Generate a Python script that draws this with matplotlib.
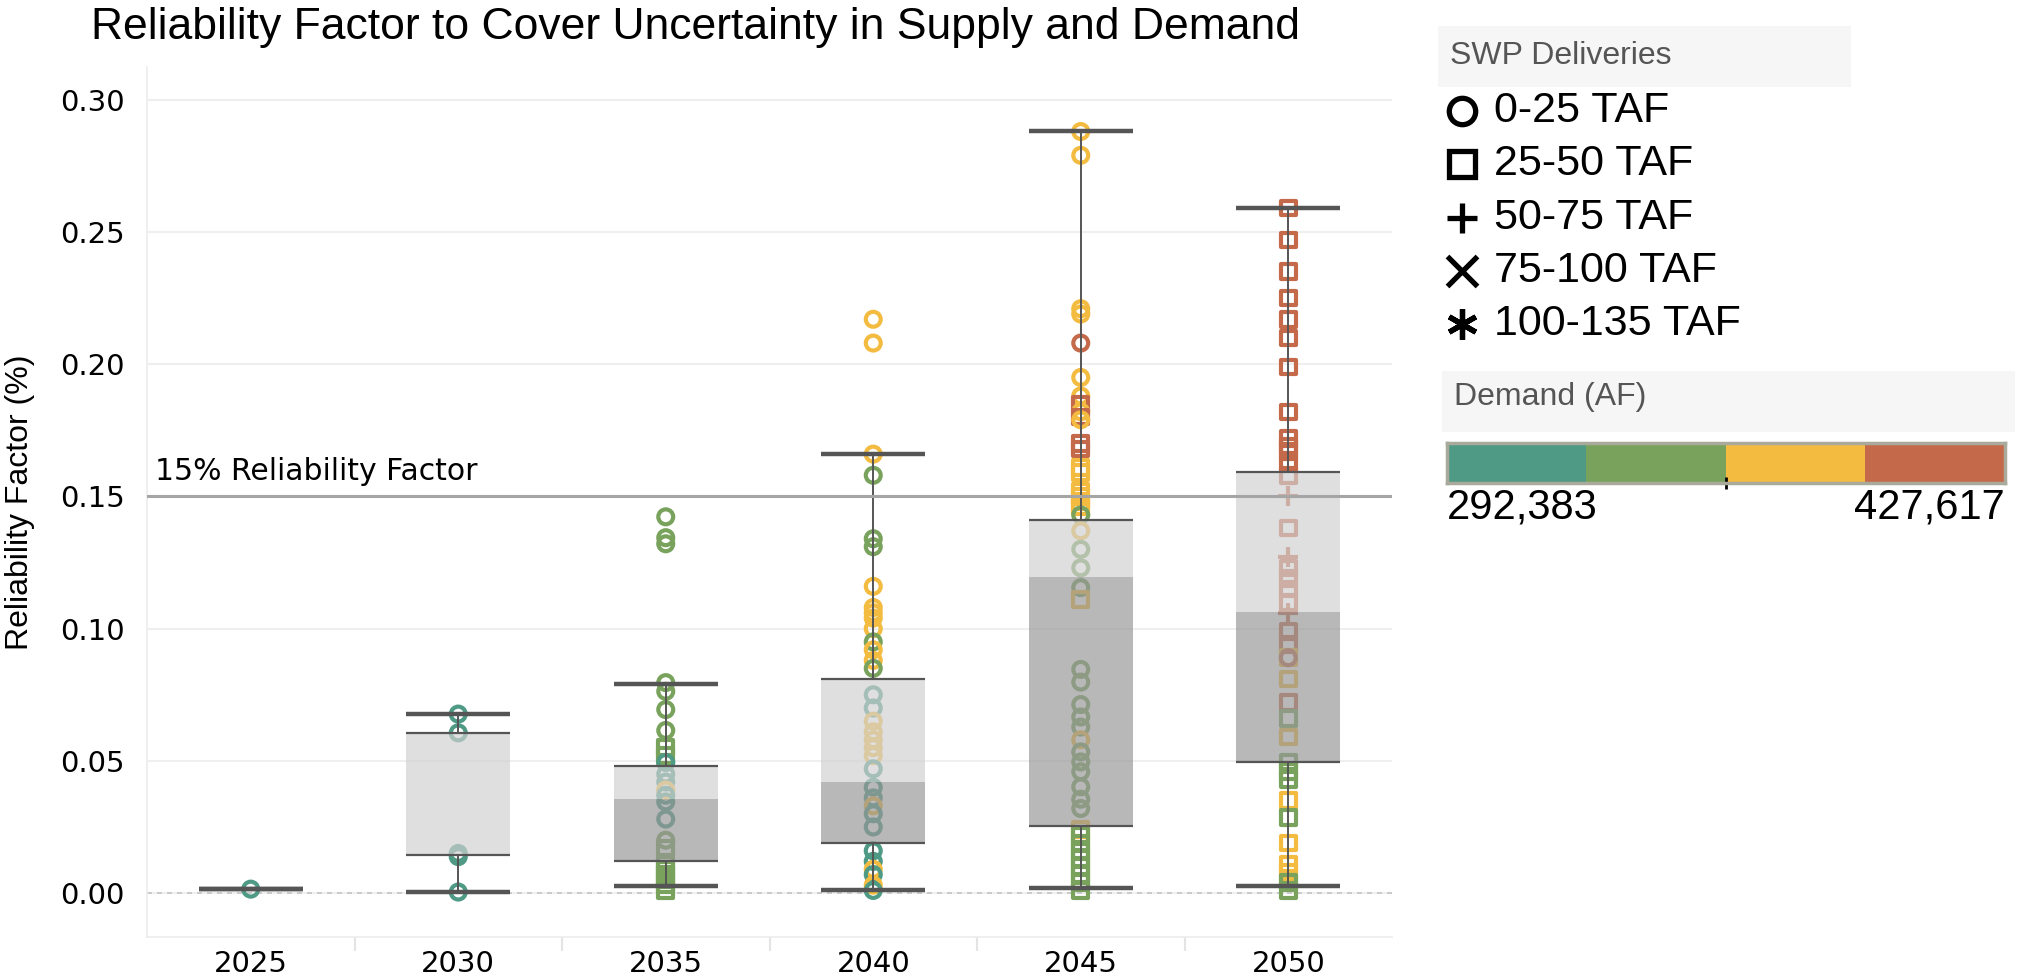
import numpy as np
import matplotlib.pyplot as plt
from matplotlib.colors import ListedColormap
from matplotlib.patches import Rectangle

# ---- data ----
years = ['2025', '2030', '2035', '2040', '2045', '2050']

# box plot stats per year
whislo = [0.0015, 0.0004, 0.0027, 0.0010, 0.0020, 0.0026]
q1 = [0.0015, 0.0145, 0.0121, 0.0190, 0.0254, 0.0496]
med = [0.0015, 0.0147, 0.0356, 0.0420, 0.1194, 0.1063]
q3 = [0.0015, 0.0606, 0.0481, 0.0810, 0.1410, 0.1593]
whishi = [0.0015, 0.0677, 0.0790, 0.1662, 0.2882, 0.2589]

# points: value, demand bin (T/G/Y/R), SWP delivery bin (o/s/+)
rf_2025 = [0.0015]
dem_2025 = 'T'
swp_2025 = 'o'

rf_2030 = [0.0677, 0.0606, 0.0150, 0.0138, 0.0004]
dem_2030 = 'TTTTT'
swp_2030 = 'ooooo'

rf_2035 = [0.1423, 0.1344, 0.1321, 0.0796, 0.0763, 0.0694, 0.0615, 0.0550, 0.0520,
           0.0494, 0.0450, 0.0420, 0.0390, 0.0370, 0.0345, 0.0280, 0.0200, 0.0170,
           0.0110, 0.0090, 0.0070, 0.0050, 0.0030, 0.0010]
dem_2035 = 'GGGGGGGGGTTTYTTTGGGGGGGG'
swp_2035 = 'ooooooossoooooooossssssss'[:24]

rf_2040 = [0.217, 0.208, 0.166, 0.158, 0.134, 0.131, 0.116, 0.108, 0.106, 0.104,
           0.100, 0.095, 0.092, 0.088, 0.085, 0.075, 0.070, 0.065, 0.061, 0.058,
           0.055, 0.052, 0.047, 0.040, 0.036, 0.033, 0.030, 0.025, 0.016, 0.012,
           0.009, 0.007, 0.003, 0.001]
dem_2040 = 'YYYGGGY' + 'YYYY' + 'GYYG' + 'TTYYYYYT' + 'TTYTT' + 'TTYTYT'
swp_2040 = 'o' * 34

rf_2045 = [0.288, 0.279, 0.221, 0.219, 0.208, 0.195, 0.188, 0.185, 0.182, 0.180,
           0.179, 0.170, 0.168, 0.161, 0.159, 0.152, 0.150, 0.148, 0.146, 0.143,
           0.137, 0.130, 0.123, 0.1155, 0.111, 0.0846, 0.0798, 0.0713, 0.0666, 0.0628,
           0.058, 0.0534, 0.0496, 0.0459, 0.0402, 0.0355, 0.032, 0.024, 0.022, 0.019,
           0.016, 0.013, 0.010, 0.007, 0.004, 0.001]
dem_2045 = 'YYYYR' + 'YYRYR' + 'YRRYY' + 'YYYYG' + 'YGGGY' + 'GGGGG' + 'YGGGG' + 'GGYGG' + 'GGGGG' + 'G'
swp_2045 = 'ooooo' + 'oosos' + 'ossss' + 'sssso' + 'oooos' + 'ooooo' + 'ooooo' + 'oosss' + 'sssss' + 's'

rf_2050 = [0.259, 0.247, 0.235, 0.225, 0.217, 0.210, 0.199, 0.182, 0.172, 0.169,
           0.167, 0.163, 0.158, 0.150, 0.138, 0.127, 0.123, 0.119, 0.115, 0.110,
           0.106, 0.099, 0.094, 0.089, 0.089, 0.081, 0.072, 0.066, 0.059, 0.0496,
           0.046, 0.043, 0.035, 0.0285, 0.019, 0.011, 0.008, 0.004, 0.001]
dem_2050 = 'RRRRR' + 'RRRRR' + 'RRRRR' + 'RRRRR' + 'RRRYR' + 'YRGYG' + 'GGYGY' + 'YYGG'
swp_2050 = 'sssss' + 'sssss' + 'sss+s' + '+ssss' + '+ssso' + 'sssss' + 'sssss' + 'ssss'

points = [(rf_2025, dem_2025, swp_2025), (rf_2030, dem_2030, swp_2030),
          (rf_2035, dem_2035, swp_2035), (rf_2040, dem_2040, swp_2040),
          (rf_2045, dem_2045, swp_2045), (rf_2050, dem_2050, swp_2050)]

demand_colors = {'T': '#4E9A85', 'G': '#79A35D', 'Y': '#F3BC41', 'R': '#C4694A'}
demand_min, demand_max = 292383, 427617
swp_labels = ['0-25 TAF', '25-50 TAF', '50-75 TAF', '75-100 TAF', '100-135 TAF']
swp_markers = ['o', 's', '+', 'x', (6, 2, 0)]
ref_level = 0.15

# ---- figure ----
W, H = 2029, 974
fig = plt.figure(figsize=(W / 100, H / 100), dpi=100)
ax = fig.add_axes([147 / W, 1 - 937 / H, (1392 - 147) / W, (937 - 67) / H])
ax.set_xlim(-0.5, 5.5)
ax.set_ylim(-0.0166, 0.3124)

yt = np.arange(0, 0.31, 0.05)
for v in yt:
    ax.axhline(v, color='#efefef', lw=1.5, zorder=0)
ax.axhline(0, color='#c4c4c4', lw=1.2, ls=(0, (3, 3)), zorder=1)

# points
for i, (vals, dems, shapes) in enumerate(points):
    for v, d, s in zip(vals, dems, shapes):
        if s == '+':
            ax.scatter(i, v, marker='+', s=190, color=demand_colors[d], linewidths=3, zorder=2)
        else:
            ax.scatter(i, v, marker=s, s=115 if s == 'o' else 110, facecolors='none',
                       edgecolors=demand_colors[d], linewidths=3, zorder=2)

# boxes (semi-transparent so points underneath look faded)
x = np.arange(len(years))
q1a, meda, q3a = np.array(q1), np.array(med), np.array(q3)
ax.bar(x, meda - q1a, bottom=q1a, width=0.5, color='#979797', alpha=0.68, zorder=3)
ax.bar(x, q3a - meda, bottom=meda, width=0.5, color='#d0d0d0', alpha=0.68, zorder=3)
ax.hlines(q1, x - 0.25, x + 0.25, color='#555555', lw=1.6, zorder=4)
ax.hlines(q3, x - 0.25, x + 0.25, color='#555555', lw=1.6, zorder=4)
ax.vlines(x, whislo, q1, color='#555555', lw=1.4, zorder=4)
ax.vlines(x, q3, whishi, color='#555555', lw=1.4, zorder=4)
ax.hlines(whislo, x - 0.25, x + 0.25, color='#555555', lw=3.2, zorder=4)
ax.hlines(whishi, x - 0.25, x + 0.25, color='#555555', lw=3.2, zorder=4)

ax.axhline(ref_level, color='#a5a5a5', lw=2.2, zorder=5)
ax.text(-0.46, ref_level + 0.004, '15% Reliability Factor', fontsize=21.5,
        family='DejaVu Sans', va='bottom', ha='left', zorder=6)

ax.set_xticks(x)
ax.set_xticklabels(years, fontsize=21, family='DejaVu Sans')
ax.set_xticks(x[:-1] + 0.5, minor=True)
ax.set_yticks(yt)
ax.set_yticklabels([f'{v:.2f}' for v in yt], fontsize=21, family='DejaVu Sans')
ax.tick_params(axis='both', which='major', length=0)
ax.tick_params(axis='x', which='major', pad=9)
ax.tick_params(axis='y', which='major', pad=16)
ax.tick_params(axis='x', which='minor', length=10, width=1.5, color='#e4e4e4')
for sp in ['top', 'right']:
    ax.spines[sp].set_visible(False)
for sp in ['left', 'bottom']:
    ax.spines[sp].set_color('#ececec')
    ax.spines[sp].set_linewidth(1.2)
ax.set_ylabel('Reliability Factor (%)', fontsize=23, family='Liberation Sans')
ax.yaxis.set_label_coords(-112 / (1392 - 147), 0.5)

fig.text(91 / W, 1 - 28 / H, 'Reliability Factor to Cover Uncertainty in Supply and Demand',
         fontsize=32, family='Liberation Sans', ha='left', va='center')

# ---- legend (pixel coordinate overlay) ----
ov = fig.add_axes([0, 0, 1, 1])
ov.set_xlim(0, W)
ov.set_ylim(H, 0)
ov.axis('off')
ov.patch.set_alpha(0)

ov.add_patch(Rectangle((1438, 26), 413, 61, color='#f6f6f6', lw=0))
ov.text(1450, 56, 'SWP Deliveries', fontsize=23, color='#555555',
        family='Liberation Sans', va='center', ha='left')
for k, (lab, mk) in enumerate(zip(swp_labels, swp_markers)):
    yy = 111 + k * 53.3
    ms = 19 if mk in ('o', 's') else 22
    ov.plot(1462, yy, marker=mk, ms=ms, mfc='none', mec='black', color='black', mew=3.8)
    ov.text(1494, yy, lab, fontsize=31, family='Liberation Sans', va='center', ha='left')

ov.add_patch(Rectangle((1442, 371), 573, 61, color='#f6f6f6', lw=0))
ov.text(1454, 397, 'Demand (AF)', fontsize=23, color='#555555',
        family='Liberation Sans', va='center', ha='left')

cb = fig.add_axes([1447 / W, 1 - 483 / H, (2005 - 1447) / W, 40 / H])
cb.imshow([[0, 1, 2, 3]], cmap=ListedColormap(list(demand_colors.values())),
          extent=[demand_min, demand_max, 0, 1], aspect='auto')
cb.set_xlim(demand_min, demand_max)
cb.set_yticks([])
cb.set_xticks([(demand_min + demand_max) / 2])
cb.set_xticklabels([''])
cb.tick_params(axis='x', length=9, width=2, direction='inout', color='black')
for sp in cb.spines.values():
    sp.set_color('#a9a99c')
    sp.set_linewidth(2.5)
cb.text(0, -0.12, f'{demand_min:,}', transform=cb.transAxes, fontsize=30,
        family='Liberation Sans', ha='left', va='top')
cb.text(1, -0.12, f'{demand_max:,}', transform=cb.transAxes, fontsize=30,
        family='Liberation Sans', ha='right', va='top')

fig.savefig('out.png', dpi=100)
